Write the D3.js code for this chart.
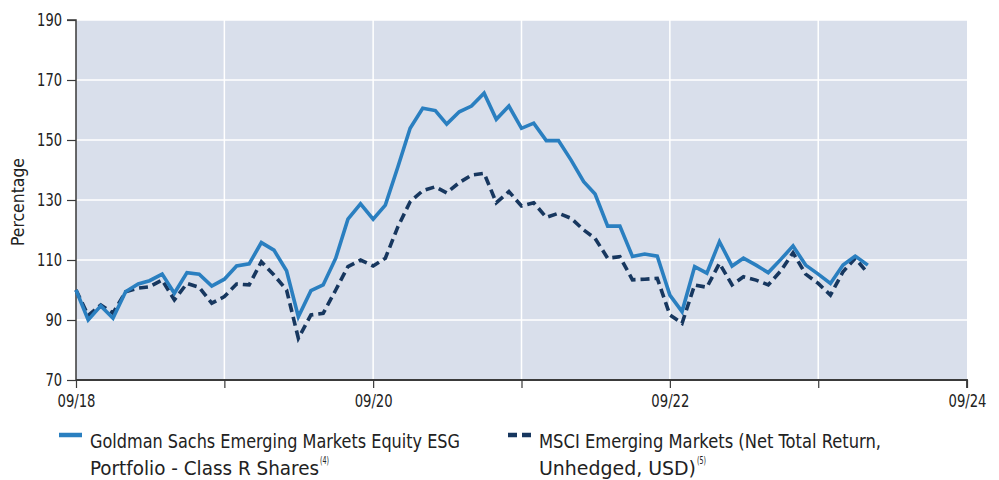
<!DOCTYPE html>
<html>
<head>
<meta charset="utf-8">
<script src="https://cdn.jsdelivr.net/npm/d3@7"></script>
<style>
  html, body { margin: 0; padding: 0; background: #ffffff; }
  svg { display: block; }
  text { font-family: "Liberation Sans Narrow", "Arial Narrow", "DejaVu Sans Condensed", sans-serif; fill: #222; }
</style>
</head>
<body>
<svg id="chart" width="999" height="480"></svg>
<script>
// ---------- DATA ----------
const startMonth = "2018-09";            // first monthly observation
const gsValues = [100, 90, 94.7, 90.6, 99.4, 102, 103.1, 105.3, 98.9, 105.8,
  105.3, 101.3, 103.6, 108, 108.7, 115.8, 113.3, 106.4, 91.1, 99.8,
  101.7, 110.6, 123.6, 128.7, 123.6, 128.3, 141.1, 153.9, 160.6, 159.8,
  155.3, 159.4, 161.3, 165.6, 156.9, 161.3, 153.9, 155.6, 149.8, 149.8,
  143.3, 136.1, 132, 121.3, 121.3, 111.2, 112, 111.3, 98.3, 92.8,
  107.8, 105.6, 116.1, 108, 110.6, 108.3, 105.8, 110.2, 114.7, 108.3,
  105.3, 102.2, 108.3, 111.3, 108.3];
const msciValues = [100, 91.5, 95, 92.3, 99.4, 100.6, 101.1, 103.3, 96.7, 102.2,
  100.9, 95.6, 97.8, 102, 101.7, 109.4, 105, 100, 83.9, 91.7,
  92.2, 100, 107.8, 110, 108, 110.6, 121.1, 129.4, 133.1, 134.4,
  132.4, 135.8, 138.3, 138.9, 129.1, 132.8, 128, 129.1, 124.2, 125.6,
  123.9, 120, 117.2, 110.6, 111.1, 103.4, 103.6, 103.9, 91.7, 88.9,
  101.7, 100.9, 108.9, 101.7, 104.4, 103.3, 101.7, 106.4, 112.4, 105.3,
  102.2, 98.3, 106.1, 110.6, 105.6];
const seriesNames = ["Goldman Sachs Emerging Markets Equity ESG|Portfolio - Class R Shares|(4)",
                     "MSCI Emerging Markets (Net Total Return,|Unhedged, USD)|(5)"];
const yTicks = [70, 90, 110, 130, 150, 170, 190];
const xTickDates = ["2018-09", "2019-09", "2020-09", "2021-09", "2022-09", "2023-09", "2024-09"];
const xTickLabels = ["09/18", "", "09/20", "", "09/22", "", "09/24"];
const yAxisTitle = "Percentage";

// ---------- SETUP ----------
const parse = d3.timeParse("%Y-%m");
const start = parse(startMonth);
const dates = gsValues.map((_, i) => d3.timeMonth.offset(start, i));
const tickDates = xTickDates.map(parse);

const svg = d3.select("#chart");
const L = 76, R = 967, T = 20, B = 380;
const FONT = '"Liberation Sans Narrow", "Arial Narrow", "DejaVu Sans Condensed", sans-serif';

const x = d3.scaleTime().domain([tickDates[0], tickDates[tickDates.length - 1]]).range([L, R]);
const y = d3.scaleLinear().domain([70, 190]).range([B, T]);

const BG = "#d9dfeb", BLUE = "#2a7fc0", NAVY = "#17375f", AXIS = "#3a3a3a";

// plot background
svg.append("rect").attr("x", L).attr("y", T).attr("width", R - L).attr("height", B - T).attr("fill", BG);

// grid
svg.append("g").selectAll("line").data(yTicks.filter(v => v > 70)).join("line")
  .attr("x1", L).attr("x2", R).attr("y1", d => y(d)).attr("y2", d => y(d))
  .attr("stroke", "#ffffff").attr("stroke-width", 1.5);
svg.append("g").selectAll("line").data(tickDates.slice(1, -1)).join("line")
  .attr("x1", d => x(d)).attr("x2", d => x(d)).attr("y1", T).attr("y2", B)
  .attr("stroke", "#ffffff").attr("stroke-width", 1.5);

// y axis
const yAxis = d3.axisLeft(y).tickValues(yTicks).tickSize(9).tickPadding(5).tickFormat(d3.format("d"));
const gy = svg.append("g").attr("transform", `translate(${L},0)`).call(yAxis);
gy.select(".domain").attr("stroke", AXIS).attr("stroke-width", 1.5).attr("d", `M-9,${T}H0V${B}`);
gy.selectAll(".tick line").attr("stroke", AXIS).attr("stroke-width", 1.2);
gy.selectAll(".tick text").attr("font-size", 17).attr("fill", "#222").style("font-family", FONT)
  .attr("textLength", d => String(d).length * 8.3).attr("lengthAdjust", "spacingAndGlyphs");

// x axis
const xAxis = d3.axisBottom(x).tickValues(tickDates).tickSize(8).tickPadding(7)
  .tickFormat((d, i) => xTickLabels[i]);
const gx = svg.append("g").attr("transform", `translate(0,${B})`).call(xAxis);
gx.select(".domain").attr("stroke", AXIS).attr("stroke-width", 1.8).attr("d", `M${L},0H${R}V8`);
gx.selectAll(".tick line").attr("stroke", AXIS).attr("stroke-width", 1.2);
gx.selectAll(".tick text").attr("font-size", 17).attr("fill", "#222").style("font-family", FONT)
  .filter((d, i) => xTickLabels[i] !== "")
  .attr("textLength", 38).attr("lengthAdjust", "spacingAndGlyphs");

// y title
svg.append("text").attr("transform", `translate(24,${(T + B) / 2 + 2}) rotate(-90)`)
  .attr("text-anchor", "middle").attr("font-size", 17)
  .attr("textLength", 88).attr("lengthAdjust", "spacingAndGlyphs").text(yAxisTitle);

// lines
const line = d3.line().x((d, i) => x(dates[i])).y(d => y(d)).curve(d3.curveLinear);
svg.append("path").datum(msciValues).attr("d", line).attr("fill", "none")
  .attr("stroke", NAVY).attr("stroke-width", 3.6).attr("stroke-dasharray", "9,5")
  .attr("stroke-linejoin", "miter");
svg.append("path").datum(gsValues).attr("d", line).attr("fill", "none")
  .attr("stroke", BLUE).attr("stroke-width", 3.6).attr("stroke-linejoin", "miter");

// legend
const legend = [
  { x: 59, color: BLUE, dash: null, name: seriesNames[0], w1: 370, w2: 229 },
  { x: 508, color: NAVY, dash: "9,5", name: seriesNames[1], w1: 342, w2: 157 }
];
legend.forEach(l => {
  const [a, b, sup] = l.name.split("|");
  svg.append("line").attr("x1", l.x).attr("x2", l.x + 23).attr("y1", 435).attr("y2", 435)
    .attr("stroke", l.color).attr("stroke-width", 4.5).attr("stroke-dasharray", l.dash);
  const tx = l.x + 31;
  svg.append("text").attr("x", tx).attr("y", 448).attr("font-size", 19)
    .attr("textLength", l.w1).attr("lengthAdjust", "spacingAndGlyphs").text(a);
  svg.append("text").attr("x", tx).attr("y", 475).attr("font-size", 19)
    .attr("textLength", l.w2).attr("lengthAdjust", "spacingAndGlyphs").text(b);
  svg.append("text").attr("x", tx + l.w2 + 1).attr("y", 464).attr("font-size", 10)
    .attr("textLength", 9).attr("lengthAdjust", "spacingAndGlyphs").text(sup);
});
</script>
</body>
</html>
